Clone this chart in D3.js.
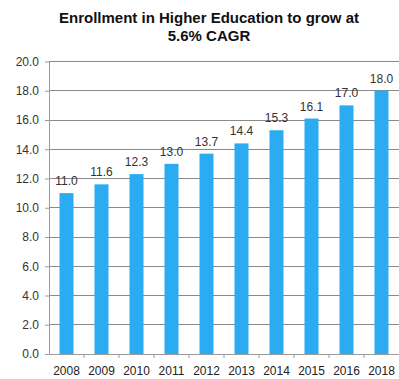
<!DOCTYPE html>
<html><head><meta charset="utf-8">
<script src="https://cdn.jsdelivr.net/npm/d3@7"></script>
<style>body{margin:0;background:#fff;}svg{display:block;font-family:"Liberation Sans",Arial,sans-serif;}</style>
</head><body>
<script>
const years = ["2008","2009","2010","2011","2012","2013","2014","2015","2016","2018"];
const enrollment = [11.0, 11.6, 12.3, 13.0, 13.7, 14.4, 15.3, 16.1, 17.0, 18.0];
const yTicks = [0,2,4,6,8,10,12,14,16,18,20];
const titleLines = ["Enrollment in Higher Education to grow at", "5.6% CAGR"];

const W = 399, H = 379;
const svg = d3.select("body").append("svg").attr("width", W).attr("height", H);

const x = d3.scaleBand().domain(years).range([49, 399]).paddingInner(0.6).paddingOuter(0.3);
const y = d3.scaleLinear().domain([0, 20]).range([354, 61.5]);

// gridlines
svg.append("g").selectAll("line").data(yTicks.filter(d => d > 0)).join("line")
  .attr("x1", 49).attr("x2", 399)
  .attr("y1", d => y(d)).attr("y2", d => y(d))
  .attr("stroke", "#8a8a8a").attr("stroke-width", 1).attr("shape-rendering","crispEdges");

// y axis
const yAxis = svg.append("g").attr("transform", "translate(49,0)")
  .call(d3.axisLeft(y).tickValues(yTicks).tickFormat(d3.format(".1f")).tickSize(4).tickSizeOuter(0));
yAxis.select(".domain").attr("stroke", "#9a9a9a");
yAxis.selectAll(".tick line").attr("stroke", "#9a9a9a");
yAxis.selectAll("text").attr("font-size", 12).attr("fill", "#333").attr("x", -10).attr("font-family","Liberation Sans, Arial, sans-serif");

// bars
svg.append("g").selectAll("rect").data(years).join("rect")
  .attr("x", d => x(d)).attr("width", x.bandwidth())
  .attr("y", (d, i) => y(enrollment[i]))
  .attr("height", (d, i) => y(0) - y(enrollment[i]))
  .attr("fill", "#2aabf2");

// x axis
const xAxis = svg.append("g").attr("transform", `translate(0,${y(0)})`)
  .call(d3.axisBottom(x).tickSize(0).tickPadding(12));
xAxis.select(".domain").attr("stroke", "#9a9a9a");
xAxis.selectAll("text").attr("font-size", 12).attr("fill", "#222").attr("font-family","Liberation Sans, Arial, sans-serif");
// small boundary ticks
svg.append("g").selectAll("line").data(years.slice(1)).join("line")
  .attr("x1", d => x(d) - x.step()*x.paddingInner()/2).attr("x2", d => x(d) - x.step()*x.paddingInner()/2)
  .attr("y1", y(0)).attr("y2", y(0) + 4)
  .attr("stroke", "#9a9a9a");

// value labels
svg.append("g").selectAll("text").data(years).join("text")
  .attr("x", d => x(d) + x.bandwidth()/2)
  .attr("y", (d, i) => y(enrollment[i]) - 8)
  .attr("text-anchor", "middle").attr("font-size", 12).attr("fill", "#333")
  .text((d, i) => enrollment[i].toFixed(1));

// title
svg.append("g").selectAll("text").data(titleLines).join("text")
  .attr("x", 209).attr("y", (d, i) => 23 + i * 18)
  .attr("text-anchor", "middle").attr("font-size", 15).attr("font-weight", "bold").attr("fill", "#111")
  .text(d => d);
</script>
</body></html>
